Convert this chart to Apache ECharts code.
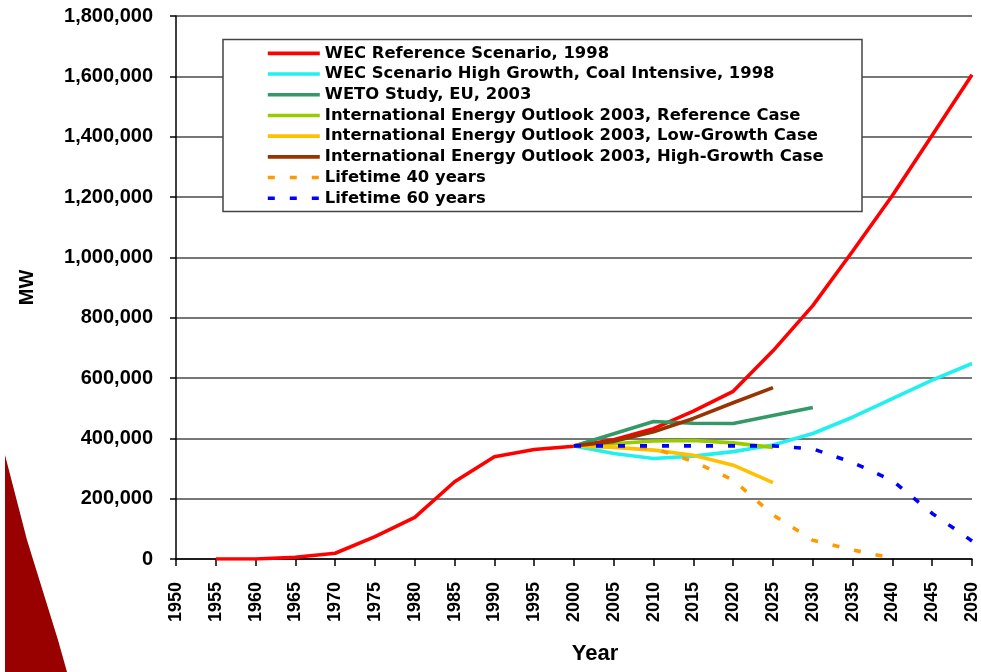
<!DOCTYPE html>
<html>
<head>
<meta charset="utf-8">
<script src="https://cdn.jsdelivr.net/npm/echarts@6/dist/echarts.min.js"></script>
<style>
html,body{margin:0;padding:0;background:#fff;}
#chart{width:981px;height:672px;}
</style>
</head>
<body>
<div id="chart"></div>
<script>
// Categories (years)
var years = ['1950','1955','1960','1965','1970','1975','1980','1985','1990','1995','2000',
             '2005','2010','2015','2020','2025','2030','2035','2040','2045','2050'];

// Series values (MW), aligned with years
var wecReference = [null, 0, 0, 6000, 19000, 74000, 138000, 256000, 339000, 363000, 374000,
                    395000, 432000, 490000, 556000, 690000, 840000, 1020000, 1205000, 1405000, 1605000];
var wecHighGrowth = [null, null, null, null, null, null, null, null, null, null, 375000,
                     350000, 333000, 341000, 356000, 378000, 416000, 470000, 532000, 593000, 648000];
var wetoStudy = [null, null, null, null, null, null, null, null, null, null, 375000,
                 415000, 456000, 450000, 449000, 476000, 502000, null, null, null, null];
var ieoReference = [null, null, null, null, null, null, null, null, null, null, 375000,
                    382000, 391000, 393000, 385000, 370000, null, null, null, null, null];
var ieoLowGrowth = [null, null, null, null, null, null, null, null, null, null, 375000,
                    370000, 361000, 344000, 311000, 253000, null, null, null, null, null];
var ieoHighGrowth = [null, null, null, null, null, null, null, null, null, null, 375000,
                     390000, 422000, 466000, 518000, 568000, null, null, null, null, null];
var lifetime40 = [null, null, null, null, null, null, null, null, null, null, 375000,
                  375000, 367000, 323000, 262000, 146000, 62000, 30000, 3000, null, null];
var lifetime60 = [null, null, null, null, null, null, null, null, null, null, 375000,
                  375000, 375000, 375000, 375000, 375000, 365000, 320000, 260000, 151000, 60000];

var seriesNames = [
  'WEC Reference Scenario, 1998',
  'WEC Scenario High Growth, Coal Intensive, 1998',
  'WETO Study, EU, 2003',
  'International Energy Outlook 2003, Reference Case',
  'International Energy Outlook 2003, Low-Growth Case',
  'International Energy Outlook 2003, High-Growth Case',
  'Lifetime 40 years',
  'Lifetime 60 years'
];
var seriesData = [wecReference, wecHighGrowth, wetoStudy, ieoReference, ieoLowGrowth, ieoHighGrowth, lifetime40, lifetime60];
var seriesColors = ['#ff0000', '#22f0f0', '#339966', '#99cc00', '#ffc000', '#993300', '#ff9900', '#0000ff'];
var seriesDashed = [false, false, false, false, false, false, true, true];

var chart = echarts.init(document.getElementById('chart'), null, {renderer: 'canvas'});

var series = seriesNames.map(function (n, i) {
  return {
    name: n,
    type: 'line',
    data: seriesData[i],
    symbol: 'none',
    showSymbol: false,
    connectNulls: false,
    smooth: false,
    animation: false,
    z: 2 + i * 0.01,
    lineStyle: {
      color: seriesColors[i],
      width: 3.6,
      type: seriesDashed[i] ? [7, 15] : 'solid',
      cap: 'butt'
    },
    itemStyle: {color: seriesColors[i]}
  };
});

var option = {
  backgroundColor: '#ffffff',
  animation: false,
  grid: {left: 176, top: 16, right: 4, bottom: 113, containLabel: false},
  xAxis: {
    type: 'category',
    data: years,
    boundaryGap: false,
    name: 'Year',
    nameLocation: 'middle',
    nameGap: 84,
    nameTextStyle: {fontFamily: 'Liberation Sans', fontWeight: 'bold', fontSize: 22, color: '#000', padding: [0, 0, 0, 42]},
    axisLine: {show: true, lineStyle: {color: '#000', width: 1.5}},
    axisTick: {show: true, interval: 0, length: 7, inside: false, lineStyle: {color: '#000', width: 1.5}},
    axisLabel: {interval: 0, rotate: 90, margin: 23, fontFamily: 'Liberation Sans', fontWeight: 'bold', fontSize: 18, color: '#000'},
    splitLine: {show: false}
  },
  yAxis: {
    type: 'value',
    min: 0,
    max: 1800000,
    interval: 200000,
    name: 'MW',
    nameLocation: 'middle',
    nameRotate: 90,
    nameGap: 139,
    nameTextStyle: {fontFamily: 'Liberation Sans', fontWeight: 'bold', fontSize: 20, color: '#000'},
    axisLine: {show: true, lineStyle: {color: '#000', width: 1.5}},
    axisTick: {show: true, length: 6, inside: false, lineStyle: {color: '#000', width: 1.5}},
    axisLabel: {
      margin: 23, fontFamily: 'Liberation Sans', fontWeight: 'bold', fontSize: 20, color: '#000',
      formatter: function (v) { return String(v).replace(/\B(?=(\d{3})+(?!\d))/g, ','); }
    },
    splitLine: {show: true, lineStyle: {color: '#4a4a4a', width: 1.5}}
  },
  legend: {
    show: true,
    orient: 'vertical',
    left: 266,
    top: 43,
    z: 6,
    padding: 0,
    itemWidth: 52,
    itemHeight: 12,
    itemGap: 0,
    selectedMode: false,
    data: seriesNames,
    itemStyle: {opacity: 0, borderWidth: 0},
    lineStyle: {opacity: 1, width: 3.6},
    textStyle: {fontFamily: 'DejaVu Sans', fontWeight: 'bold', fontSize: 16.4, lineHeight: 20.7, color: '#000'}
  },
  graphic: [
    {
      type: 'rect', z: 5,
      shape: {x: 223, y: 39.5, width: 639, height: 172},
      style: {fill: '#ffffff', stroke: '#444444', lineWidth: 1.5}
    },
    {
      type: 'polygon', z: 5,
      shape: {points: [[5, 455], [27, 540], [58, 640], [67, 672], [5, 672]]},
      style: {fill: '#990000'}
    }
  ],
  series: series
};

chart.setOption(option);
</script>
</body>
</html>
